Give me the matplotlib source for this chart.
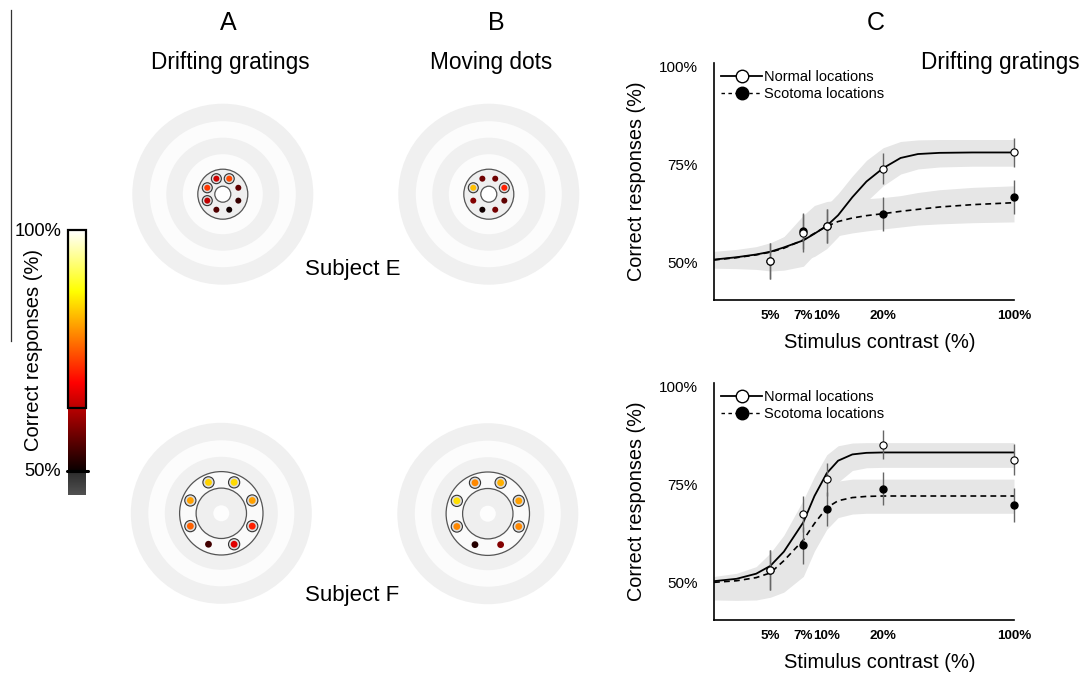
import numpy as np
import matplotlib
matplotlib.use('Agg')
import matplotlib.pyplot as plt
from matplotlib.patches import Circle, Rectangle
from matplotlib.lines import Line2D
from matplotlib import colors as mcolors

plt.rcParams['font.family'] = ['Liberation Sans', 'DejaVu Sans']

W, H = 1085, 674
DPI = 100

# ------------------------------------------------------------------ data
contrasts = [5, 7.5, 10, 20, 100]
contrast_labels = ['5%', '7%', '10%', '20%', '100%']
yticks = [50, 75, 100]
ytick_labels = ['50%', '75%', '100%']

# dot angles (deg) on the stimulus ring
dot_angles = [22.5, 67.5, 112.5, 157.5, 202.5, 247.5, 292.5, 337.5]
# percent correct per location
subjE_gratings = [56.4, 73.7, 64.6, 72.4, 63.5, 55.3, 50.5, 53.5]
subjE_dots = [70.6, 57.6, 57.6, 82.5, 59.1, 50.5, 58.0, 56.4]
subjF_gratings = [80.2, 84.5, 83.8, 80.2, 75.5, 54.2, 66.0, 70.6]
subjF_dots = [80.2, 81.4, 78.5, 84.8, 78.5, 52.0, 59.0, 78.5]
signif_threshold = 63.0

# Subject E, drifting gratings (top psychometric plot)
e_normal_mean = [50.3, 57.4, 59.2, 73.9, 78.0]
e_normal_err = [4.5, 4.8, 4.3, 3.9, 3.8]
e_scot_mean = [50.3, 58.0, 59.2, 62.3, 66.6]
e_scot_err = [4.5, 4.5, 4.3, 4.3, 4.3]

# Subject F, drifting gratings (bottom psychometric plot)
f_normal_mean = [53.1, 67.4, 76.3, 85.1, 81.3]
f_normal_err = [5.1, 4.6, 4.2, 3.6, 3.9]
f_scot_mean = [53.1, 59.4, 68.7, 73.9, 69.7]
f_scot_err = [5.1, 4.8, 4.4, 4.3, 4.4]

# fitted curves and confidence bands
fit_x = [2.5, 3.3, 4.2, 5, 5.9, 7.5, 8.6, 10, 11.5, 13.7, 16.3, 20, 24.8, 30.7, 40, 60, 100]
e_normal_fit = [50.7, 51.3, 52.0, 52.7, 53.8, 55.6, 57.3, 59.3, 62.0, 66.6, 70.6, 74.0, 76.6, 77.6, 77.9, 78.0, 78.0]
e_scot_fit = [50.6, 51.2, 51.9, 52.6, 53.6, 55.7, 57.4, 59.2, 60.4, 61.3, 61.9, 62.4, 63.0, 63.5, 64.1, 64.7, 65.2]
e_normal_lo = [48.7, 48.8, 49.0, 49.3, 49.6, 50.5, 51.5, 53.5, 56.5, 61.0, 65.5, 69.5, 72.5, 73.8, 74.3, 74.5, 74.5]
e_normal_hi = [52.8, 53.3, 54.0, 55.0, 56.5, 59.5, 61.5, 64.5, 67.5, 72.0, 76.0, 79.2, 80.8, 81.2, 81.3, 81.3, 81.3]
e_scot_lo = [48.5, 48.4, 48.2, 47.8, 48.0, 49.0, 52.0, 55.5, 56.8, 57.5, 58.0, 58.5, 59.0, 59.5, 59.8, 60.1, 60.3]
e_scot_hi = [52.6, 53.0, 53.8, 54.8, 56.5, 62.0, 64.5, 65.5, 65.8, 66.0, 66.2, 66.5, 67.0, 67.8, 68.5, 69.1, 69.5]

f_normal_fit = [50.3, 50.9, 52.2, 54.2, 57.8, 65.3, 72.0, 77.8, 81.0, 82.6, 83.0, 83.1, 83.1, 83.1, 83.1, 83.1, 83.1]
f_scot_fit = [50.0, 50.4, 51.2, 52.4, 55.5, 60.8, 65.0, 69.0, 70.8, 71.6, 71.9, 72.0, 72.0, 72.0, 72.0, 72.0, 72.0]
f_normal_lo = [49.0, 49.0, 49.5, 50.5, 53.0, 59.0, 64.0, 70.5, 75.5, 78.5, 79.2, 79.3, 79.3, 79.3, 79.3, 79.3, 79.3]
f_normal_hi = [51.5, 52.3, 54.0, 57.5, 62.0, 71.0, 77.0, 82.5, 84.8, 85.5, 85.6, 85.6, 85.6, 85.6, 85.6, 85.6, 85.6]
f_scot_lo = [45.5, 45.4, 45.5, 46.2, 47.5, 51.5, 58.0, 63.5, 66.5, 67.4, 67.6, 67.6, 67.6, 67.6, 67.6, 67.6, 67.6]
f_scot_hi = [51.0, 51.3, 52.2, 54.3, 57.5, 65.0, 70.5, 74.5, 75.8, 76.3, 76.3, 76.3, 76.3, 76.3, 76.3, 76.3, 76.3]

# ------------------------------------------------------------------ figure
fig = plt.figure(figsize=(W / DPI, H / DPI), dpi=DPI)
fig.patch.set_facecolor('white')


def ftext(x, y, s, **kw):
    fig.text(x / W, 1 - y / H, s, **kw)


# overlay axes in pixel coordinates for the retinotopic maps and colorbar
ov = fig.add_axes([0, 0, 1, 1])
ov.set_xlim(0, W)
ov.set_ylim(H, 0)
ov.axis('off')

cmap = plt.get_cmap('hot')
norm = mcolors.Normalize(50, 100)

RING_GRAY = '#f0f0f0'
RING_WHITE = '#fcfcfc'
EDGE = '#555555'


def draw_map(cx, cy, values, large):
    # background concentric bands
    for r, c in [(90.5, RING_GRAY), (73, RING_WHITE), (56.5, RING_GRAY)]:
        ov.add_patch(Circle((cx, cy), r, facecolor=c, edgecolor='none', zorder=1))
    if not large:
        ov.add_patch(Circle((cx, cy), 40, facecolor=RING_WHITE, edgecolor='none', zorder=1))
        ov.add_patch(Circle((cx, cy), 25, facecolor='#efefef', edgecolor=EDGE, lw=0.9, zorder=2))
        ov.add_patch(Circle((cx, cy), 8, facecolor='white', edgecolor=EDGE, lw=0.9, zorder=3))
        rd, dr, rr = 16.8, 3.0, 5.0
    else:
        ov.add_patch(Circle((cx, cy), 41.7, facecolor='#fafafa', edgecolor=EDGE, lw=0.9, zorder=2))
        ov.add_patch(Circle((cx, cy), 25.2, facecolor='#efefef', edgecolor=EDGE, lw=0.9, zorder=3))
        ov.add_patch(Circle((cx, cy), 8, facecolor='#fdfdfd', edgecolor='none', zorder=3))
        rd, dr, rr = 33.5, 3.4, 5.6
    for a, v in zip(dot_angles, values):
        x = cx + rd * np.cos(np.radians(a))
        y = cy - rd * np.sin(np.radians(a))
        if v >= signif_threshold:
            ov.add_patch(Circle((x, y), rr, facecolor='#dcdcdc', edgecolor='#333333', lw=0.8, zorder=4))
        ov.add_patch(Circle((x, y), dr, facecolor=cmap(norm(v)), edgecolor='none', zorder=5))


draw_map(222.8, 194.2, subjE_gratings, False)
draw_map(488.8, 194.2, subjE_dots, False)
draw_map(221.3, 513.3, subjF_gratings, True)
draw_map(487.8, 513.7, subjF_dots, True)

# colorbar
cb_x0, cb_x1 = 68.3, 86.0
y100, y50 = 230.0, 471.0
grad = np.linspace(100, 50, 256).reshape(-1, 1)
ov.imshow(grad, cmap=cmap, norm=norm, extent=(cb_x0, cb_x1, y50, y100),
          origin='upper', aspect='auto', zorder=2, interpolation='bilinear')
gray_grad = np.linspace(0.17, 0.32, 64).reshape(-1, 1)
ov.imshow(gray_grad, cmap='gray', vmin=0, vmax=1, extent=(cb_x0, cb_x1, 495, y50),
          origin='upper', aspect='auto', zorder=2, interpolation='bilinear')
y_thr = y50 - (signif_threshold - 50) / 50 * (y50 - y100)
ov.add_patch(Rectangle((cb_x0, y100), cb_x1 - cb_x0, y_thr - y100, fill=False,
                       edgecolor='black', lw=1.6, zorder=3))
ov.plot([cb_x0 - 1.8, cb_x1 + 1.8], [y50, y50], color='black', lw=2.2, zorder=3,
        solid_capstyle='round')
ov.plot([10.5, 10.5], [10, 341], color='#333333', lw=0.9)
ov.set_xlim(0, W)
ov.set_ylim(H, 0)

ftext(61, 232, '100%', fontsize=13.2, ha='right', va='center')
ftext(61, 472, '50%', fontsize=13.2, ha='right', va='center')
ftext(34, 350, 'Correct responses (%)', fontsize=14.5, ha='center', va='center', rotation=90)

# panel letters and headings
ftext(228, 23, 'A', fontsize=18, ha='center', va='center')
ftext(496, 23, 'B', fontsize=18, ha='center', va='center')
ftext(876, 23, 'C', fontsize=18, ha='center', va='center')
ftext(230, 63, 'Drifting gratings', fontsize=16.3, ha='center', va='center')
ftext(491, 63, 'Moving dots', fontsize=16.3, ha='center', va='center')
ftext(1000, 63, 'Drifting gratings', fontsize=16.3, ha='center', va='center')
ftext(353, 270, 'Subject E', fontsize=16, ha='center', va='center')
ftext(352, 595, 'Subject F', fontsize=16, ha='center', va='center')

# ------------------------------------------------------------------ psychometric plots
BAND = '#e6e6e6'


def psych(top_px, nm, ne, sm, se, nfit, sfit, nlo, nhi, slo, shi):
    left, right, bottom = 714, 1014, top_px + 237
    ax = fig.add_axes([left / W, 1 - bottom / H, (right - left) / W, 237 / H])
    ax.patch.set_alpha(0)
    ax.set_xscale('log')
    ax.fill_between(fit_x, slo, shi, color=BAND, lw=0, zorder=1)
    ax.fill_between(fit_x, nlo, nhi, color=BAND, lw=0, zorder=1)
    ax.plot(fit_x, sfit, color='black', lw=1.2, ls=(0, (3.5, 2.5)), zorder=3)
    ax.plot(fit_x, nfit, color='black', lw=1.3, zorder=3)
    ax.errorbar(contrasts, sm, yerr=se, fmt='none', ecolor='#666666', elinewidth=1.0,
                capsize=0, zorder=4, clip_on=False)
    ax.errorbar(contrasts, nm, yerr=ne, fmt='none', ecolor='#666666', elinewidth=1.0,
                capsize=0, zorder=4, clip_on=False)
    ax.plot(contrasts, sm, 'o', color='black', ms=5, zorder=5, clip_on=False)
    ax.plot(contrasts, nm, 'o', mfc='white', mec='black', mew=0.8, ms=5.2, zorder=6,
            clip_on=False)
    ax.set_xlim(2.5, 100)
    ax.set_ylim(40.4, 100.8)
    ax.xaxis.set_minor_locator(matplotlib.ticker.NullLocator())
    ax.set_xticks(contrasts)
    ax.set_xticklabels(contrast_labels, fontsize=9.6, fontweight='bold')
    ax.set_yticks(yticks)
    ax.set_yticklabels(ytick_labels, fontsize=11)
    ax.tick_params(axis='x', length=0, pad=7.5)
    ax.tick_params(axis='y', length=0, pad=11.5)
    for s in ['top', 'right']:
        ax.spines[s].set_visible(False)
    for s in ['left', 'bottom']:
        ax.spines[s].set_linewidth(1.2)
    handles = [
        Line2D([], [], color='black', lw=1.3, marker='o', mfc='white', mec='black', ms=9),
        Line2D([], [], color='black', lw=1.0, ls=(0, (2.5, 2.5)), marker='o', mfc='black',
               mec='black', ms=9),
    ]
    ax.legend(handles, ['Normal locations', 'Scotoma locations'], loc='upper left',
              bbox_to_anchor=(0, 1.0), borderaxespad=0.2, borderpad=0.3,
              handlelength=2.8, handletextpad=0.1, labelspacing=0.2,
              frameon=False, fontsize=10.5)
    ftext(636, top_px + 118, 'Correct responses (%)', fontsize=14.3, ha='center',
          va='center', rotation=90)
    ftext(880, top_px + 279, 'Stimulus contrast (%)', fontsize=14.5, ha='center',
          va='center')
    return ax


psych(63, e_normal_mean, e_normal_err, e_scot_mean, e_scot_err,
      e_normal_fit, e_scot_fit, e_normal_lo, e_normal_hi, e_scot_lo, e_scot_hi)
psych(383, f_normal_mean, f_normal_err, f_scot_mean, f_scot_err,
      f_normal_fit, f_scot_fit, f_normal_lo, f_normal_hi, f_scot_lo, f_scot_hi)

fig.savefig('out.png', dpi=DPI, facecolor='white')
